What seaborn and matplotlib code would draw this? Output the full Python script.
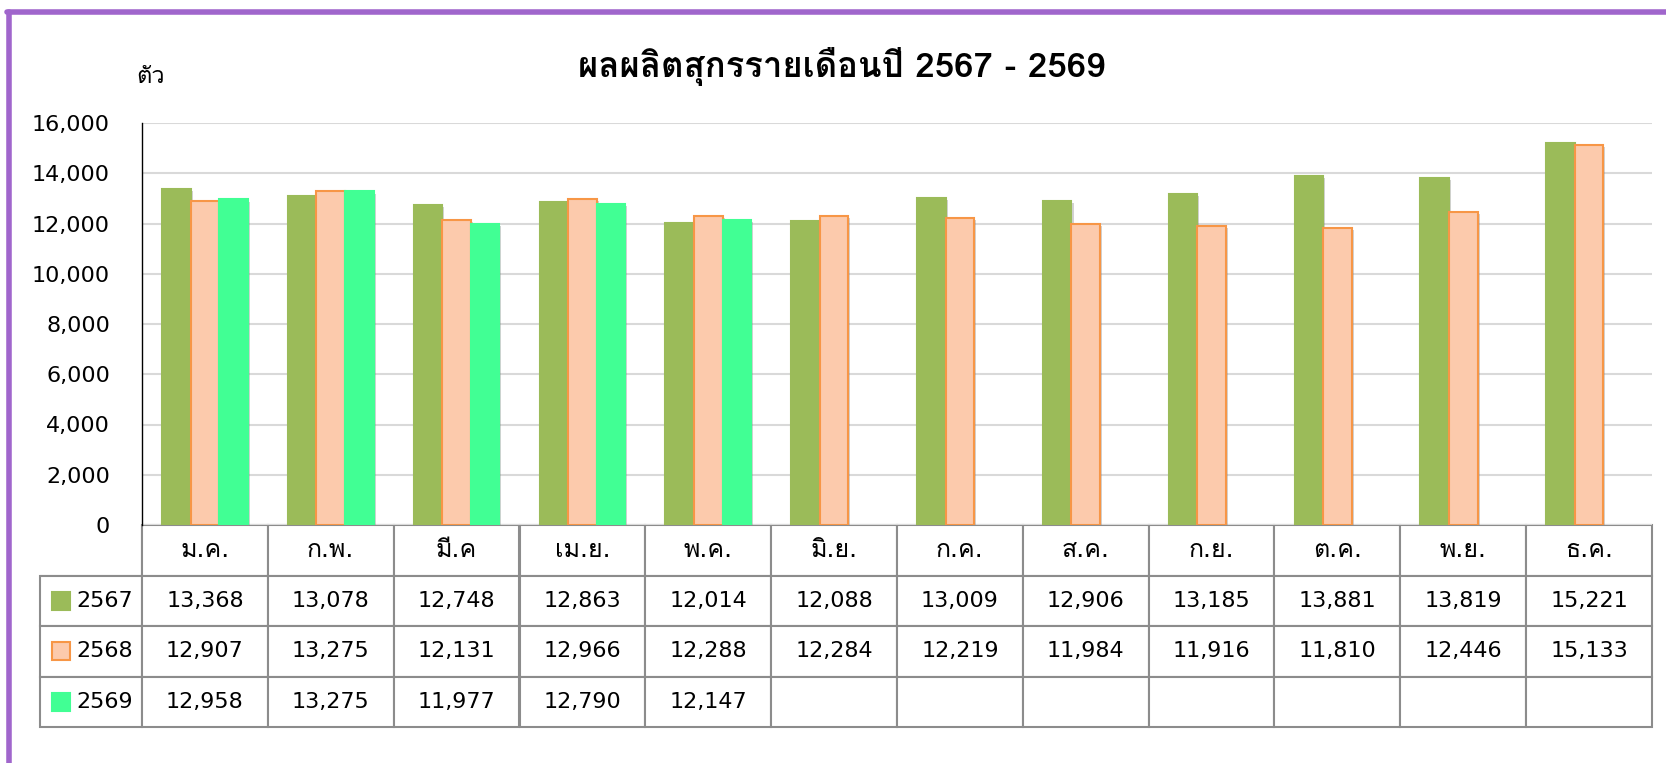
import matplotlib
matplotlib.use('Agg')
import matplotlib.pyplot as plt
from matplotlib.patches import Rectangle
from matplotlib.lines import Line2D
from matplotlib.ticker import FuncFormatter
import matplotlib.patheffects as pe
import pandas as pd
import seaborn as sns

# ข้อมูล
months = ['ม.ค.', 'ก.พ.', 'มี.ค', 'เม.ย.', 'พ.ค.', 'มิ.ย.',
          'ก.ค.', 'ส.ค.', 'ก.ย.', 'ต.ค.', 'พ.ย.', 'ธ.ค.']
years = ['2567', '2568', '2569']
y2567 = [13368, 13078, 12748, 12863, 12014, 12088, 13009, 12906, 13185, 13881, 13819, 15221]
y2568 = [12907, 13275, 12131, 12966, 12288, 12284, 12219, 11984, 11916, 11810, 12446, 15133]
y2569 = [12958, 13275, 11977, 12790, 12147, None, None, None, None, None, None, None]

colors = ['#9BBB59', '#FCCAAC', '#41FF94']
edge_colors = ['#9BBB59', '#F79646', '#41FF94']

sns.set_style('white')
plt.rcParams['font.family'] = ['DejaVu Sans', 'Loma']
plt.rcParams['text.color'] = 'black'
plt.rcParams['ytick.color'] = 'black'

df = pd.DataFrame({
    'month': months * 3,
    'year': [y for y in years for _ in months],
    'value': y2567 + y2568 + y2569,
})

fig = plt.figure(figsize=(16.66, 7.63), dpi=100)
ax = fig.add_axes([142 / 1666, 1 - 525 / 763, 1510 / 1666, 402 / 763])

sns.barplot(data=df, x='month', y='value', hue='year', order=months, hue_order=years,
            palette=colors, saturation=1, width=0.68, dodge=True, ax=ax, legend=False)

# เงาจาง ๆ ให้แท่ง
shadow = [pe.SimplePatchShadow(offset=(1.5, -1.5), shadow_rgbFace='#808080', alpha=0.35),
          pe.Normal()]
for cont, ec in zip(ax.containers, edge_colors):
    for bar in cont:
        bar.set_edgecolor(ec)
        bar.set_linewidth(1.5)
        bar.set_path_effects(shadow)

ax.set_ylim(0, 16000)
ax.set_xlim(-0.5, 11.5)
ax.set_yticks(range(0, 16001, 2000))
ax.yaxis.set_major_formatter(FuncFormatter(lambda v, p: f'{int(v):,}'))
ax.tick_params(axis='y', labelsize=16, length=0, pad=23)
ax.set_xticks([])
ax.set_xlabel('')
ax.set_ylabel('')
ax.grid(axis='y', color='#D9D9D9', linewidth=1.5)
ax.set_axisbelow(True)
for s in ['top', 'right', 'bottom']:
    ax.spines[s].set_visible(False)
ax.spines['left'].set_color('black')
ax.spines['left'].set_linewidth(1.0)

# ตารางข้อมูลใต้กราฟ
cell_text = [[''] + months]
for vals in [y2567, y2568, y2569]:
    cell_text.append([''] + [f'{v:,}' if v is not None else '' for v in vals])

lab_w = 102 / 1510
tbl_h = 202 / 402
tbl = ax.table(cellText=cell_text, colWidths=[lab_w] + [1 / 12] * 12,
               cellLoc='center', bbox=[-lab_w, -tbl_h, 1 + lab_w, tbl_h])
tbl.auto_set_font_size(False)
tbl.set_fontsize(16)
for (r, c), cell in tbl.get_celld().items():
    cell.set_edgecolor('#8C8C8C')
    cell.set_linewidth(1.5)
    if r == 0:
        cell.get_text().set_fontsize(18)
tbl[0, 0].visible_edges = 'BR'

# สัญลักษณ์สีในคอลัมน์แรก
row_h = tbl_h / 4
for i, (yr, col, ec) in enumerate(zip(years, colors, edge_colors)):
    yc = -(i + 1) * row_h - row_h / 2
    ax.add_patch(Rectangle((-0.0596, yc - 0.022), 0.0122, 0.044, transform=ax.transAxes,
                           facecolor=col, edgecolor=ec, linewidth=1.5, clip_on=False))
    ax.text(-0.0437, yc, yr, transform=ax.transAxes, fontsize=16, ha='left', va='center')

# หัวเรื่อง
fig.text(842 / 1666, 1 - 67 / 763, 'ผลผลิตสุกรรายเดือนปี 2567 - 2569',
         fontsize=25, fontweight='bold', family=['Loma', 'DejaVu Sans'],
         ha='center', va='center')
fig.text(151 / 1666, 1 - 76 / 763, 'ตัว', fontsize=17, ha='center', va='center')

# กรอบสีม่วง
fig.add_artist(Line2D([9 / 1666, 9 / 1666], [0, 1 - 12 / 763], color='#A066CC', linewidth=4))
fig.add_artist(Line2D([7 / 1666, 1], [1 - 12 / 763, 1 - 12 / 763], color='#A066CC', linewidth=4))

fig.savefig('out.png', dpi=100)
